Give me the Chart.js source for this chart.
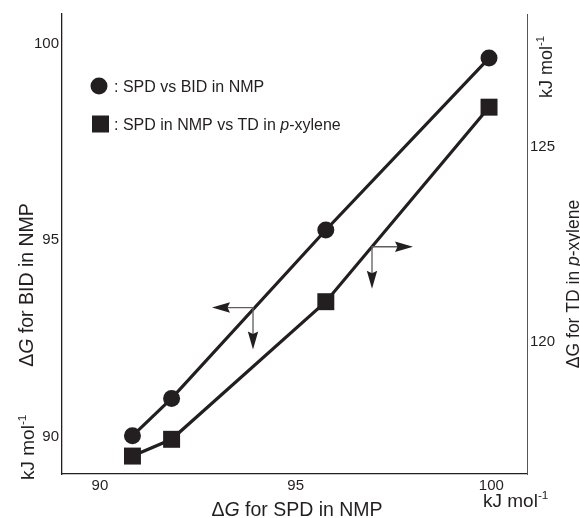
<!DOCTYPE html>
<html lang="en">
<head>
  <meta charset="UTF-8">
  <title>Delta G correlation</title>
  <style>
    html, body { margin: 0; padding: 0; background: #fff; }
    #wrap { width: 580px; height: 518px; }
  </style>
  <script src="https://cdn.jsdelivr.net/npm/chart.js"></script>
</head>
<body>
  <div id="wrap"><canvas id="dgChart" width="580" height="518"></canvas></div>

  <script>
    // dG values, kJ/mol
    const spdNMP   = [90.83, 91.83, 95.77, 99.94];   // SPD in NMP (x)
    const bidNMP   = [90.03, 90.98, 95.26, 99.63];   // BID in NMP (left axis)
    const tdXylene = [117.06, 117.49, 121.02, 126.01]; // TD in p-xylene (right axis)

    const xTicks     = [90, 95, 100];
    const leftTicks  = [90, 95, 100];
    const rightTicks = [120, 125];

    const INK = '#231f20';
    const FONT = "'Liberation Sans', Arial, sans-serif";

    function toPoints(xs, ys) {
      return xs.map((x, i) => ({ x: x, y: ys[i] }));
    }

    function fixTicks(list) {
      return axis => { axis.ticks = list.map(v => ({ value: v })); };
    }

    // text with an optional italic piece and superscript
    function drawRuns(ctx, runs, size) {
      let x = 0;
      runs.forEach(r => {
        const fs = r.sup ? size * 0.62 : size;
        ctx.font = (r.italic ? 'italic ' : '') + fs + 'px ' + FONT;
        ctx.fillText(r.t, x, r.sup ? -size * 0.42 : 0);
        x += ctx.measureText(r.t).width;
      });
      return x;
    }
    function runsWidth(ctx, runs, size) {
      let w = 0;
      runs.forEach(r => {
        const fs = r.sup ? size * 0.62 : size;
        ctx.font = (r.italic ? 'italic ' : '') + fs + 'px ' + FONT;
        w += ctx.measureText(r.t).width;
      });
      return w;
    }
    // anchor: 'start' | 'center', rot in radians
    function label(ctx, runs, size, x, y, rot, anchor) {
      ctx.save();
      ctx.translate(x, y);
      if (rot) ctx.rotate(rot);
      ctx.fillStyle = INK;
      ctx.textBaseline = 'alphabetic';
      ctx.textAlign = 'left';
      const w = runsWidth(ctx, runs, size);
      ctx.translate(anchor === 'center' ? -w / 2 : 0, 0);
      drawRuns(ctx, runs, size);
      ctx.restore();
    }

    const kJ = [{ t: 'kJ mol' }, { t: '-1', sup: true }];

    const titlesPlugin = {
      id: 'titles',
      afterDraw(chart) {
        const ctx = chart.ctx;
        // axis titles
        label(ctx, [{ t: '\u0394' }, { t: 'G', italic: true }, { t: ' for SPD in NMP' }], 19.5, 297, 516, 0, 'center');
        label(ctx, kJ, 19, 483, 507, 0, 'start');
        label(ctx, [{ t: '\u0394' }, { t: 'G', italic: true }, { t: ' for BID in NMP' }], 19.5, 33, 285, -Math.PI / 2, 'center');
        label(ctx, kJ, 19, 34, 480, -Math.PI / 2, 'start');
        label(ctx, [{ t: '\u0394G for TD in ' }, { t: 'p', italic: true }, { t: '-xylene' }], 17.5, 579, 284, -Math.PI / 2, 'center');
        label(ctx, kJ, 18, 552, 98, -Math.PI / 2, 'start');

        // key
        ctx.save();
        ctx.fillStyle = INK;
        ctx.beginPath();
        ctx.arc(99, 86, 8.5, 0, Math.PI * 2);
        ctx.fill();
        ctx.fillRect(92, 115.5, 17, 17);
        ctx.restore();
        label(ctx, [{ t: ': SPD vs BID in NMP' }], 16, 114, 92, 0, 'start');
        label(ctx, [{ t: ': SPD in NMP vs TD in ' }, { t: 'p', italic: true }, { t: '-xylene' }], 16, 114, 130, 0, 'start');
      }
    };

    // pointers telling which axis each line belongs to
    function arrowHead(ctx, x, y, dx, dy) {
      const len = 18, half = 5.2;
      const px = -dy, py = dx;
      ctx.beginPath();
      ctx.moveTo(x, y);
      ctx.lineTo(x - dx * len + px * half, y - dy * len + py * half);
      ctx.lineTo(x - dx * len * 0.86, y - dy * len * 0.86);
      ctx.lineTo(x - dx * len - px * half, y - dy * len - py * half);
      ctx.closePath();
      ctx.fill();
    }
    const pointersPlugin = {
      id: 'pointers',
      afterDatasetsDraw(chart) {
        const ctx = chart.ctx;
        const sx = chart.scales.x, sy = chart.scales.y, sy2 = chart.scales.y2;
        const marks = [
          { px: sx.getPixelForValue(93.91), py: sy.getPixelForValue(93.29), dir: -1 },
          { px: sx.getPixelForValue(96.95), py: sy2.getPixelForValue(122.43), dir: 1 }
        ];
        ctx.save();
        marks.forEach(m => {
          const hx = m.px + m.dir * 41, vy = m.py + 42;
          ctx.strokeStyle = '#5f5d5d';
          ctx.lineWidth = 1.3;
          ctx.beginPath();
          ctx.moveTo(hx - m.dir * 10, m.py);
          ctx.lineTo(m.px, m.py);
          ctx.lineTo(m.px, vy - 10);
          ctx.stroke();
          ctx.fillStyle = INK;
          arrowHead(ctx, hx, m.py, m.dir, 0);
          arrowHead(ctx, m.px, vy, 0, 1);
        });
        ctx.restore();
      }
    };

    const tickFont = { family: FONT, size: 15 };

    new Chart(document.getElementById('dgChart'), {
      type: 'scatter',
      data: {
        datasets: [
          {
            label: 'SPD vs BID in NMP',
            data: toPoints(spdNMP, bidNMP),
            yAxisID: 'y',
            showLine: true,
            borderColor: INK,
            borderWidth: 3.2,
            pointStyle: 'circle',
            pointRadius: 8.5,
            pointBackgroundColor: INK,
            pointBorderWidth: 0
          },
          {
            label: 'SPD in NMP vs TD in p-xylene',
            data: toPoints(spdNMP, tdXylene),
            yAxisID: 'y2',
            showLine: true,
            borderColor: INK,
            borderWidth: 3.2,
            pointStyle: 'rect',
            pointRadius: 12,
            pointBackgroundColor: INK,
            pointBorderWidth: 0
          }
        ]
      },
      options: {
        responsive: false,
        animation: false,
        layout: { padding: { top: 14, left: 0, right: 0, bottom: 0 } },
        plugins: { legend: { display: false }, tooltip: { enabled: false } },
        scales: {
          x: {
            type: 'linear',
            min: 89.03, max: 100.91,
            afterBuildTicks: fixTicks(xTicks),
            afterFit: s => { s.height = 44; },
            grid: { display: false, drawTicks: false },
            border: { display: true, color: INK, width: 1.3 },
            ticks: { font: tickFont, color: INK, padding: 3 }
          },
          y: {
            type: 'linear', position: 'left',
            min: 89.06, max: 100.75,
            afterBuildTicks: fixTicks(leftTicks),
            afterFit: s => { s.width = 62; },
            grid: { display: false, drawTicks: false },
            border: { display: true, color: INK, width: 1.3 },
            ticks: { font: tickFont, color: INK, padding: 3 }
          },
          y2: {
            type: 'linear', position: 'right',
            min: 116.60, max: 128.40,
            afterBuildTicks: fixTicks(rightTicks),
            afterFit: s => { s.width = 53; },
            grid: { display: false, drawTicks: false },
            border: { display: true, color: '#555', width: 1 },
            ticks: { font: tickFont, color: INK, padding: 3 }
          }
        }
      },
      plugins: [pointersPlugin, titlesPlugin]
    });
  </script>
</body>
</html>
